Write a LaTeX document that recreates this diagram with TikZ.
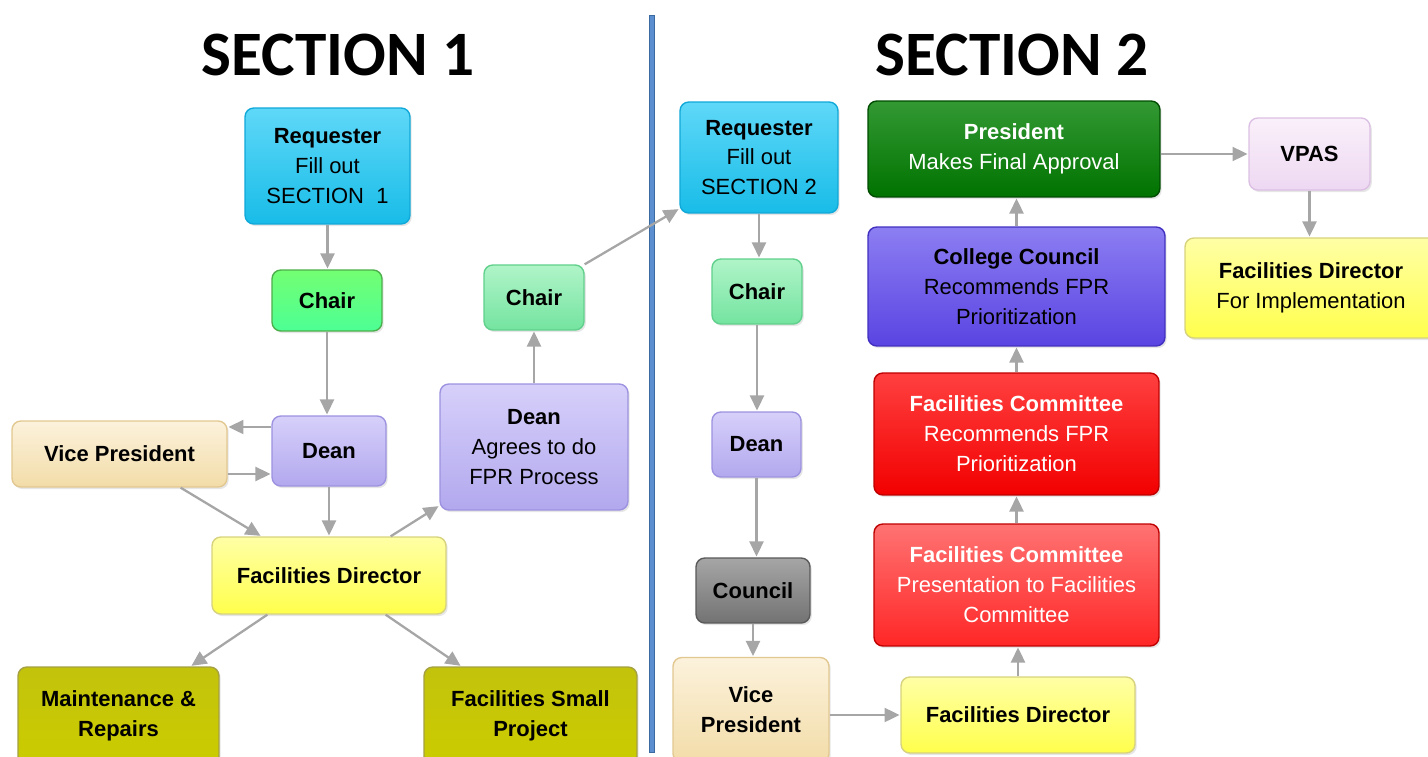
\documentclass[tikz,border=0pt]{standalone}
\usepackage{fontspec}
\setmainfont{Liberation Sans}
\newfontfamily\titlefont{Carlito}
\usetikzlibrary{arrows.meta,shadows}

\definecolor{linkgray}{HTML}{A6A6A6}
\definecolor{divblue}{HTML}{5B8FD0}
\definecolor{divdark}{HTML}{3A6AA0}
\definecolor{cyantop}{HTML}{5FD8F8}
\definecolor{cyanbot}{HTML}{18BCE8}
\definecolor{cyanline}{HTML}{10A8D8}
\definecolor{deantop}{HTML}{D6D0FA}
\definecolor{deanbot}{HTML}{B2A8EE}
\definecolor{deanline}{HTML}{9C92E0}
\definecolor{minttop}{HTML}{B0F4C8}
\definecolor{mintbot}{HTML}{74E4A0}
\definecolor{mintline}{HTML}{60D08C}
\definecolor{creamtop}{HTML}{FCF2DC}
\definecolor{creambot}{HTML}{F2DCA8}
\definecolor{creamline}{HTML}{E2C890}
\definecolor{cctop}{HTML}{8C7EF2}
\definecolor{ccbot}{HTML}{5A44E2}
\definecolor{ccline}{HTML}{4030C0}
\definecolor{vpastop}{HTML}{FAF0FA}
\definecolor{vpasbot}{HTML}{EED8F2}
\definecolor{vpasline}{HTML}{DCC0E4}

\begin{document}
\begin{tikzpicture}[x=0.02cm,y=-0.02cm,>={Triangle[length=8.5pt,width=8pt]},
    box/.style={draw,rounded corners=5pt,align=center,line width=0.8pt,
        inner sep=2pt,font=\fontsize{12.5}{17}\selectfont,
        drop shadow={opacity=0.2,shadow xshift=1pt,shadow yshift=-1.2pt}},
    cyanbox/.style={box,top color=cyantop,bottom color=cyanbot,draw=cyanline},
    deanbox/.style={box,top color=deantop,bottom color=deanbot,draw=deanline},
    mintbox/.style={box,top color=minttop,bottom color=mintbot,draw=mintline},
    creambox/.style={box,top color=creamtop,bottom color=creambot,draw=creamline},
    yellowbox/.style={box,top color=yellow!35!white,bottom color=yellow!70!white,draw=yellow!70!black!60!white},
    olivebox/.style={box,top color=yellow!75!black!95!white,bottom color=yellow!80!black,draw=yellow!60!black},
    title/.style={font=\titlefont\bfseries\fontsize{36}{40}\selectfont},
    link/.style={->,draw=linkgray,fill=linkgray,line width=1.3pt,shorten >=0.5pt}]

\useasboundingbox (0,0) rectangle (1428,757);
\clip (0,0) rectangle (1428,757);

% titles and divider
\node[title] (sec1) at (338,55) {SECTION 1};
\node[title] (sec2) at (1012,55) {SECTION 2};
\filldraw[fill=divblue,draw=divdark,line width=0.5pt] (649,15) rectangle (654,752);

% section 1
\node[cyanbox,minimum width=3.30cm,minimum height=2.32cm] (req1) at (327.5,166)
    {\textbf{Requester}\\Fill out\\SECTION\ \ 1};
\node[box,top color=green!25!white!60!green,bottom color=green!60!cyan!70!white,draw=green!55!black!70!white,
    minimum width=2.2cm,minimum height=1.22cm] (chair1) at (327,300.5) {\textbf{Chair}};
\node[deanbox,minimum width=2.28cm,minimum height=1.40cm] (dean1) at (329,451) {\textbf{Dean}};
\node[creambox,minimum width=4.30cm,minimum height=1.32cm] (vp1) at (119.5,454) {\textbf{Vice President}};
\node[yellowbox,minimum width=4.68cm,minimum height=1.54cm] (fd1) at (329,575.5) {\textbf{Facilities Director}};
\node[olivebox,minimum width=4.02cm,minimum height=1.96cm] (mr) at (118.5,716)
    {\textbf{Maintenance \&}\\\textbf{Repairs}};
\node[olivebox,minimum width=4.26cm,minimum height=1.96cm] (fsp) at (530.5,716)
    {\textbf{Facilities Small}\\\textbf{Project}};
\node[deanbox,minimum width=3.76cm,minimum height=2.52cm] (dean2) at (534,447)
    {\textbf{Dean}\\Agrees to do\\FPR Process};
\node[mintbox,minimum width=2.0cm,minimum height=1.30cm] (chair2) at (534,297.5) {\textbf{Chair}};

% section 2
\node[cyanbox,minimum width=3.16cm,minimum height=2.22cm] (req2) at (759,157.5)
    {\textbf{Requester}\\Fill out\\SECTION 2};
\node[mintbox,minimum width=1.8cm,minimum height=1.30cm] (chair3) at (757,291.5) {\textbf{Chair}};
\node[deanbox,minimum width=1.78cm,minimum height=1.30cm] (dean3) at (756.5,444.5) {\textbf{Dean}};
\node[box,top color=black!35,bottom color=black!55,draw=black!65,
    minimum width=2.28cm,minimum height=1.30cm] (council) at (753,590.5) {\textbf{Council}};
\node[creambox,minimum width=3.12cm,minimum height=2.10cm] (vp2) at (751,710)
    {\textbf{Vice}\\\textbf{President}};
\node[yellowbox,minimum width=4.68cm,minimum height=1.52cm] (fd2) at (1018,715) {\textbf{Facilities Director}};
\node[box,top color=red!55!white,bottom color=red!85!white,draw=red!75!black,text=white,
    minimum width=5.70cm,minimum height=2.44cm] (fcp) at (1016.5,585)
    {\textbf{Facilities Committee}\\Presentation to Facilities\\Committee};
\node[box,top color=red!75!white,bottom color=red!95!black,draw=red!75!black,text=white,
    minimum width=5.70cm,minimum height=2.44cm] (fcr) at (1016.5,434)
    {\textbf{Facilities Committee}\\Recommends FPR\\Prioritization};
\node[box,top color=cctop,bottom color=ccbot,draw=ccline,
    minimum width=5.94cm,minimum height=2.38cm] (cc) at (1016.5,286.5)
    {\textbf{College Council}\\Recommends FPR\\Prioritization};
\node[box,top color=green!50!black!80!white,bottom color=green!45!black,draw=green!30!black,text=white,
    minimum width=5.84cm,minimum height=1.92cm] (pres) at (1014,149)
    {\textbf{President}\\Makes Final Approval};
\node[box,top color=vpastop,bottom color=vpasbot,draw=vpasline,
    minimum width=2.42cm,minimum height=1.44cm] (vpas) at (1309.5,154) {\textbf{VPAS}};
\node[yellowbox,minimum width=5.04cm,minimum height=2.00cm] (fd3) at (1311,288)
    {\textbf{Facilities Director}\\For Implementation};

% connectors, section 1
\draw[link] (req1.south) -- (req1.south |- chair1.north);
\draw[link] (chair1.south) -- (chair1.south |- dean1.north);
\draw[link] ([yshift=0.48cm]dean1.west) -- ([yshift=0.48cm]dean1.west -| vp1.east);
\draw[link] ([yshift=-0.46cm]dean1.west -| vp1.east) -- ([yshift=-0.46cm]dean1.west);
\draw[link] ([xshift=-0.94cm]vp1.south east) -- ([xshift=1cm]fd1.north west);
\draw[link] (dean1.south) -- (dean1.south |- fd1.north);
\draw[link] ([xshift=-1.12cm]fd1.north east) -- ([yshift=0.1cm]dean2.south west);
\draw[link] ([xshift=1.12cm]fd1.south west) -- ([xshift=-0.58cm]mr.north east);
\draw[link] ([xshift=-1.22cm]fd1.south east) -- ([xshift=0.76cm]fsp.north west);
\draw[link] (dean2.north) -- (chair2.south);
\draw[link] (chair2.north east) -- ([yshift=0.1cm]req2.south west);

% connectors, section 2
\draw[link] (req2.south) -- (req2.south |- chair3.north);
\draw[link] (chair3.south) -- (chair3.south |- dean3.north);
\draw[link] (dean3.south) -- (dean3.south |- council.north);
\draw[link] (council.south) -- (council.south |- vp2.north);
\draw[link] (vp2.east |- fd2.west) -- (fd2.west);
\draw[link] (fd2.north) -- (fd2.north |- fcp.south);
\draw[link] (fcp) -- (fcr);
\draw[link] (fcr.north) -- (fcr.north |- cc.south);
\draw[link] (cc.north) -- (cc.north |- pres.south);
\draw[link] (pres.east |- vpas.west) -- (vpas.west);
\draw[link] (vpas.south) -- (vpas.south |- fd3.north);
\end{tikzpicture}
\end{document}
